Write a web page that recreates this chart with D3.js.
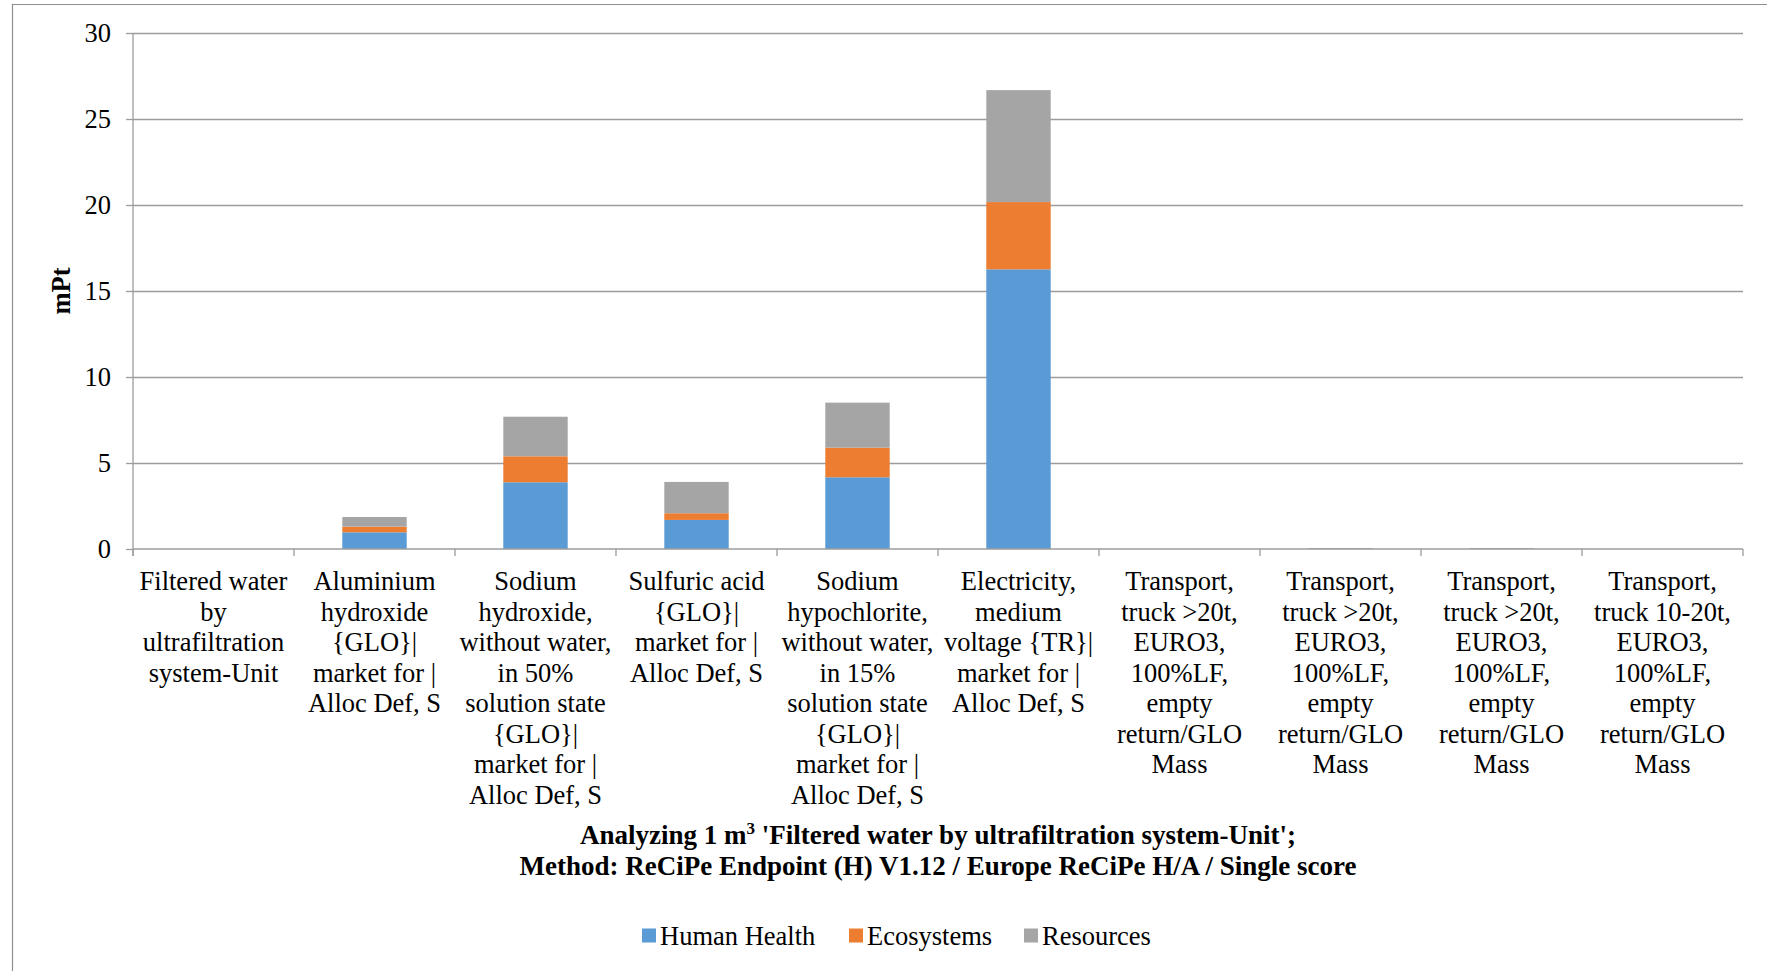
<!DOCTYPE html>
<html>
<head>
<meta charset="utf-8">
<script src="https://cdn.jsdelivr.net/npm/d3@7/dist/d3.min.js"></script>
<style>
  html, body { margin: 0; padding: 0; background: #fff; }
  svg { display: block; }
  text { font-family: "Liberation Serif", "Times New Roman", serif; fill: #000; }
</style>
</head>
<body>
<svg id="chart" width="1767" height="971"></svg>
<script>
// Process contributions (mPt), ReCiPe Endpoint (H) single score
const categories = [
  "Filtered water\nby\nultrafiltration\nsystem-Unit",
  "Aluminium\nhydroxide\n{GLO}|\nmarket for |\nAlloc Def, S",
  "Sodium\nhydroxide,\nwithout water,\nin 50%\nsolution state\n{GLO}|\nmarket for |\nAlloc Def, S",
  "Sulfuric acid\n{GLO}|\nmarket for |\nAlloc Def, S",
  "Sodium\nhypochlorite,\nwithout water,\nin 15%\nsolution state\n{GLO}|\nmarket for |\nAlloc Def, S",
  "Electricity,\nmedium\nvoltage {TR}|\nmarket for |\nAlloc Def, S",
  "Transport,\ntruck >20t,\nEURO3,\n100%LF,\nempty\nreturn/GLO\nMass",
  "Transport,\ntruck >20t,\nEURO3,\n100%LF,\nempty\nreturn/GLO\nMass",
  "Transport,\ntruck >20t,\nEURO3,\n100%LF,\nempty\nreturn/GLO\nMass",
  "Transport,\ntruck 10-20t,\nEURO3,\n100%LF,\nempty\nreturn/GLO\nMass"
];
const humanHealth = [0, 0.97, 3.88, 1.69, 4.17, 16.26, 0, 0.03, 0.03, 0];
const ecosystems  = [0, 0.33, 1.51, 0.39, 1.72, 3.91, 0, 0.01, 0.01, 0];
const resources   = [0, 0.56, 2.30, 1.82, 2.62, 6.51, 0, 0.02, 0.02, 0];
const seriesNames = ["Human Health", "Ecosystems", "Resources"];
const seriesColors = ["#5B9BD5", "#ED7D31", "#A5A5A5"];
const yTicks = [0, 5, 10, 15, 20, 25, 30];

const svg = d3.select("#chart");
const margin = { left: 133, right: 1743, top: 33, bottom: 549 };
const fs = 26.5;

// outer frame (left and top edges)
svg.append("path")
  .attr("d", "M12.5,971 L12.5,4.5 L1767,4.5")
  .attr("fill", "none").attr("stroke", "#8f8f8f").attr("stroke-width", 1.2);

const rows = categories.map((c, i) => ({
  key: i, label: c,
  "Human Health": humanHealth[i],
  "Ecosystems": ecosystems[i],
  "Resources": resources[i]
}));

const x = d3.scaleBand()
  .domain(rows.map(d => d.key))
  .range([margin.left, margin.right])
  .paddingInner(0.6).paddingOuter(0.3);

const y = d3.scaleLinear().domain([0, 30]).range([margin.bottom, margin.top]);

const gridColor = "#9c9c9c";

// horizontal gridlines with outward ticks
const yAxis = svg.append("g")
  .attr("transform", `translate(${margin.left},0)`)
  .call(d3.axisLeft(y).tickValues(yTicks).tickSize(7).tickPadding(15).tickFormat(d3.format("d")));
yAxis.select(".domain").remove();
yAxis.selectAll(".tick line").attr("stroke", gridColor).attr("stroke-width", 1.3);
yAxis.selectAll(".tick text").attr("font-size", fs).attr("fill", "#000");
yAxis.selectAll(".tick").filter(d => d !== 0).append("line")
  .attr("x1", 0).attr("x2", margin.right - margin.left)
  .attr("stroke", gridColor).attr("stroke-width", 1.3);

// stacked bars
const stack = d3.stack().keys(seriesNames);
const layers = stack(rows);
svg.append("g").selectAll("g")
  .data(layers).join("g")
  .attr("fill", (d, i) => seriesColors[i])
  .selectAll("rect")
  .data(d => d).join("rect")
  .attr("x", d => x(d.data.key))
  .attr("width", x.bandwidth())
  .attr("y", d => y(d[1]))
  .attr("height", d => Math.max(0, y(d[0]) - y(d[1])));

// y axis line (extends to the category tick length)
svg.append("line")
  .attr("x1", margin.left).attr("x2", margin.left)
  .attr("y1", margin.top).attr("y2", margin.bottom + 7)
  .attr("stroke", gridColor).attr("stroke-width", 1.3);

// x axis baseline and category boundary ticks
svg.append("line")
  .attr("x1", margin.left).attr("x2", margin.right)
  .attr("y1", margin.bottom).attr("y2", margin.bottom)
  .attr("stroke", gridColor).attr("stroke-width", 1.3);
const step = x.step();
const x0 = x(0) - x.paddingOuter() * step;
svg.append("g").selectAll("line")
  .data(d3.range(categories.length + 1)).join("line")
  .attr("x1", i => x0 + i * step).attr("x2", i => x0 + i * step)
  .attr("y1", margin.bottom).attr("y2", margin.bottom + 7)
  .attr("stroke", gridColor).attr("stroke-width", 1.3);

// category labels
const lineH = 30.5;
svg.append("g").selectAll("text")
  .data(rows).join("text")
  .attr("text-anchor", "middle")
  .attr("font-size", fs)
  .attr("x", d => x(d.key) + x.bandwidth() / 2)
  .attr("y", 590)
  .each(function (d) {
    const t = d3.select(this);
    d.label.split("\n").forEach((ln, j) => {
      t.append("tspan")
        .attr("x", x(d.key) + x.bandwidth() / 2)
        .attr("y", 590 + j * lineH)
        .text(ln);
    });
  });

// y axis title
svg.append("text")
  .attr("transform", `translate(70,${(margin.top + margin.bottom) / 2}) rotate(-90)`)
  .attr("text-anchor", "middle")
  .attr("font-size", fs).attr("font-weight", "bold")
  .text("mPt");

// chart title
const cx = (margin.left + margin.right) / 2;
const t1 = svg.append("text").attr("x", cx).attr("y", 844)
  .attr("text-anchor", "middle").attr("font-size", 27).attr("font-weight", "bold");
t1.append("tspan").text("Analyzing 1 m");
t1.append("tspan").attr("dy", -10).attr("font-size", 17).text("3");
t1.append("tspan").attr("dy", 10).text(" 'Filtered water by ultrafiltration system-Unit';");
svg.append("text").attr("x", cx).attr("y", 874.5)
  .attr("text-anchor", "middle").attr("font-size", 27).attr("font-weight", "bold")
  .text("Method: ReCiPe Endpoint (H) V1.12 / Europe ReCiPe H/A / Single score");

// legend
const legendX = [642, 849, 1024];
const lg = svg.append("g").selectAll("g")
  .data(seriesNames).join("g")
  .attr("transform", (d, i) => `translate(${legendX[i]},935.5)`);
lg.append("rect").attr("x", 0).attr("y", -7).attr("width", 14).attr("height", 14)
  .attr("fill", (d, i) => seriesColors[i]);
lg.append("text").attr("x", 18).attr("y", 9).attr("font-size", fs).text(d => d);
</script>
</body>
</html>
